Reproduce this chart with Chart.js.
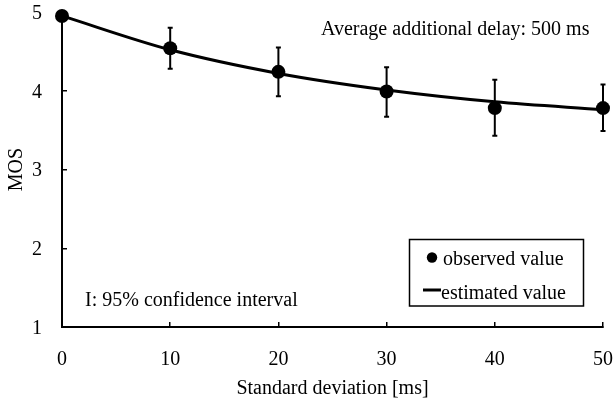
<!DOCTYPE html>
<html><head><meta charset="utf-8">
<script src="https://cdn.jsdelivr.net/npm/chart.js@4/dist/chart.umd.min.js"></script>
<style>html,body{margin:0;padding:0;background:#fff}#wrap{width:614px;height:406px}</style>
</head><body><div id="wrap"><canvas id="c" width="614" height="406"></canvas></div>
<script>
const xTicks = [0, 10, 20, 30, 40, 50];
const yTicks = [1, 2, 3, 4, 5];
const obsX = [0, 10, 20, 30, 40, 50];
const obsY = [4.95, 4.54, 4.24, 3.99, 3.78, 3.78];
const ciLow = [null, 4.28, 3.93, 3.67, 3.43, 3.49];
const ciHigh = [null, 4.80, 4.55, 4.30, 4.14, 4.08];
const estX = [0, 10, 20, 30, 40, 50];
const estY = [4.95, 4.52, 4.22, 4.01, 3.86, 3.76];
const noteTop = 'Average additional delay: 500 ms';
const noteCI = 'I: 95% confidence interval';
const legendLabels = ['observed value', 'estimated value'];

const FONT = '"Liberation Serif", "Times New Roman", serif';
Chart.defaults.font.family = FONT;
Chart.defaults.font.size = 20;
Chart.defaults.color = '#000';

const errorBars = {
  id: 'errorBars',
  afterDatasetsDraw(chart) {
    const ctx = chart.ctx, xs = chart.scales.x, ys = chart.scales.y;
    ctx.save();
    ctx.strokeStyle = '#000';
    ctx.lineWidth = 2;
    for (let i = 0; i < obsX.length; i++) {
      if (ciLow[i] == null) continue;
      const px = xs.getPixelForValue(obsX[i]);
      const p1 = ys.getPixelForValue(ciLow[i]);
      const p2 = ys.getPixelForValue(ciHigh[i]);
      ctx.beginPath();
      ctx.moveTo(px, p1); ctx.lineTo(px, p2);
      ctx.moveTo(px - 2.5, p1); ctx.lineTo(px + 2.5, p1);
      ctx.moveTo(px - 2.5, p2); ctx.lineTo(px + 2.5, p2);
      ctx.stroke();
    }
    ctx.restore();
  }
};

const notes = {
  id: 'notes',
  afterDraw(chart) {
    const ctx = chart.ctx, a = chart.chartArea;
    ctx.save();
    ctx.fillStyle = '#000';
    ctx.strokeStyle = '#000';
    ctx.font = '20px ' + FONT;
    ctx.textBaseline = 'alphabetic';
    ctx.textAlign = 'left';
    ctx.fillText(noteTop, a.left + 259, a.top + 23);
    ctx.fillText(noteCI, a.left + 23, a.top + 294);
    // legend box
    const bx = a.right - 193.5, by = a.top + 227.5, bw = 174, bh = 66.5;
    ctx.lineWidth = 1.5;
    ctx.strokeRect(bx, by, bw, bh);
    ctx.beginPath();
    ctx.arc(bx + 22.5, by + 18, 5.2, 0, Math.PI * 2);
    ctx.fill();
    ctx.fillText(legendLabels[0], bx + 33.5, by + 25.5);
    ctx.lineWidth = 3;
    ctx.beginPath();
    ctx.moveTo(bx + 13.5, by + 50.5); ctx.lineTo(bx + 31.5, by + 50.5);
    ctx.stroke();
    ctx.fillText(legendLabels[1], bx + 31.5, by + 59);
    ctx.restore();
  }
};

new Chart(document.getElementById('c'), {
  type: 'line',
  data: {
    datasets: [
      {
        label: legendLabels[1],
        data: estX.map((x, i) => ({x, y: estY[i]})),
        borderColor: '#000',
        borderWidth: 3,
        pointRadius: 0,
        cubicInterpolationMode: 'monotone',
        fill: false,
        clip: false
      },
      {
        label: legendLabels[0],
        data: obsX.map((x, i) => ({x, y: obsY[i]})),
        showLine: false,
        pointRadius: 7,
        pointBackgroundColor: '#000',
        pointBorderColor: '#000',
        pointBorderWidth: 0,
        clip: false
      }
    ]
  },
  options: {
    responsive: false,
    devicePixelRatio: 1,
    animation: false,
    layout: {padding: {top: 12, right: 11, left: 0, bottom: 0}},
    plugins: {legend: {display: false}, tooltip: {enabled: false}},
    scales: {
      x: {
        type: 'linear', min: 0, max: 50,
        afterBuildTicks(s) { s.ticks = xTicks.map(v => ({value: v})); },
        ticks: {color: '#000', font: {size: 20}, padding: 26, maxRotation: 0},
        grid: {drawOnChartArea: false, tickLength: -5, color: '#000', lineWidth: 1.5},
        border: {color: '#000', width: 2},
        title: {display: true, text: 'Standard deviation [ms]', color: '#000', font: {size: 20}, padding: {top: 0, bottom: 5}},
        afterFit(s) { s.height = 79; s.paddingLeft = 0; s.paddingRight = 0; }
      },
      y: {
        type: 'linear', min: 1, max: 5,
        afterBuildTicks(s) { s.ticks = yTicks.map(v => ({value: v})); },
        ticks: {color: '#000', font: {size: 20}, padding: 25, labelOffset: 1.5},
        grid: {drawOnChartArea: false, tickLength: -5, color: '#000', lineWidth: 1.5},
        border: {color: '#000', width: 2},
        title: {display: true, text: 'MOS', color: '#000', font: {size: 20}, padding: {top: 5, bottom: 0}},
        afterFit(s) { s.width = 62; s.paddingTop = 0; s.paddingBottom = 0; }
      }
    }
  },
  plugins: [errorBars, notes]
});
</script>
</body></html>
